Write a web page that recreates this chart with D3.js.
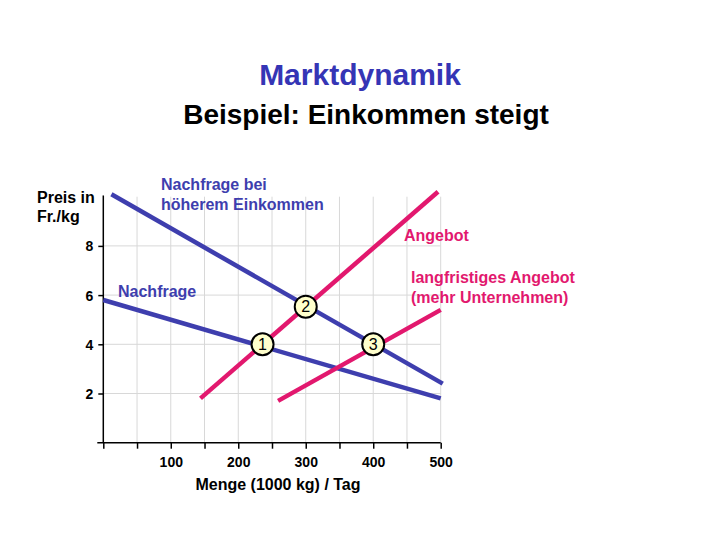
<!DOCTYPE html>
<html lang="de">
<head>
  <meta charset="UTF-8" />
  <title>Marktdynamik</title>
  <script src="https://d3js.org/d3.v7.min.js"></script>
  <style>
    body { margin: 0; padding: 0; background: #fff; font-family: Arial, "Liberation Sans", sans-serif; }
    svg { display: block; }
    svg text { font-weight: bold; }
    .axis path, .axis line { stroke: #000; stroke-width: 1.5; }
    .axis text { font-family: Arial, "Liberation Sans", sans-serif; font-size: 14px; font-weight: bold; fill: #000; }
  </style>
</head>
<body>
  <svg id="chart" width="720" height="540"></svg>
  <script>
    // Menge in 1000 kg / Tag, Preis in Fr./kg
    const xTicks = [0, 50, 100, 150, 200, 250, 300, 350, 400, 450, 500];
    const xLabels = [100, 200, 300, 400, 500];
    const yTicks = [2, 4, 6, 8];

    const nachfrage = [[0, 5.8], [500, 1.8]];
    const nachfrageHoch = [[12, 10.1], [503, 2.4]];
    const angebot = [[144, 1.8], [496, 10.2]];
    const angebotLang = [[259, 1.7], [500, 5.4]];

    const punkte = [
      { name: "1", x: 236, y: 4.0 },
      { name: "2", x: 300, y: 5.53 },
      { name: "3", x: 400, y: 4.0 }
    ];

    const blue = "#3e3eae";
    const pink = "#e2186e";

    const svg = d3.select("#chart");
    const x = d3.scaleLinear().domain([0, 500]).range([103.3, 440.7]);
    const y = d3.scaleLinear().domain([0, 10]).range([442.7, 196.7]);

    // titles
    svg.append("text").attr("x", 360).attr("y", 85)
      .attr("text-anchor", "middle").attr("font-size", 30).attr("fill", "#3535b5")
      .text("Marktdynamik");
    svg.append("text").attr("x", 366).attr("y", 124)
      .attr("text-anchor", "middle").attr("font-size", 28).attr("fill", "#000")
      .text("Beispiel: Einkommen steigt");

    // grid
    const grid = svg.append("g").attr("stroke", "#d8d8d8").attr("stroke-width", 1);
    grid.selectAll("line.v").data(xTicks.filter(d => d > 0)).enter().append("line")
      .attr("x1", d => x(d)).attr("x2", d => x(d))
      .attr("y1", y(0)).attr("y2", y(10));
    grid.selectAll("line.h").data(yTicks).enter().append("line")
      .attr("x1", x(0)).attr("x2", x(500))
      .attr("y1", d => y(d)).attr("y2", d => y(d));

    // axes
    const xAxis = d3.axisBottom(x).tickValues(xTicks).tickSize(6).tickSizeOuter(0)
      .tickFormat(d => xLabels.includes(d) ? d : "");
    const gx = svg.append("g").attr("class", "axis").attr("transform", `translate(0,${y(0)})`).call(xAxis);
    gx.select(".domain").attr("d", `M${x(0) - 6},0H${x(500)}`);
    gx.selectAll("text").attr("dy", 0).attr("y", 24);

    const yAxis = d3.axisLeft(y).tickValues(yTicks).tickSize(5).tickSizeOuter(0);
    const gy = svg.append("g").attr("class", "axis").attr("transform", `translate(${x(0)},0)`).call(yAxis);
    gy.select(".domain").attr("d", `M0,${y(0)}V${y(10.05)}`);
    gy.selectAll("text").attr("x", -10).attr("dy", "0.35em");

    // axis labels
    svg.append("text").attr("x", 278).attr("y", 490)
      .attr("text-anchor", "middle").attr("font-size", 16).text("Menge (1000 kg) / Tag");
    const yl = svg.append("text").attr("x", 37).attr("y", 203).attr("font-size", 16);
    yl.append("tspan").attr("x", 37).text("Preis in");
    yl.append("tspan").attr("x", 37).attr("dy", 19).text("Fr./kg");

    // curves
    const line = d3.line().x(d => x(d[0])).y(d => y(d[1]));
    [[nachfrage, blue], [nachfrageHoch, blue], [angebot, pink], [angebotLang, pink]].forEach(([data, c]) => {
      svg.append("path").datum(data).attr("d", line)
        .attr("fill", "none").attr("stroke", c).attr("stroke-width", 4.5);
    });

    // curve labels
    function label(px, py, lines, color) {
      const t = svg.append("text").attr("x", px).attr("y", py).attr("font-size", 16).attr("fill", color);
      lines.forEach((s, i) => t.append("tspan").attr("x", px).attr("dy", i ? 20 : 0).text(s));
    }
    label(161, 190, ["Nachfrage bei", "höherem Einkommen"], blue);
    label(118, 297, ["Nachfrage"], blue);
    label(404, 241, ["Angebot"], pink);
    label(411, 283, ["langfristiges Angebot", "(mehr Unternehmen)"], pink);

    // equilibrium points
    const pg = svg.selectAll("g.pt").data(punkte).enter().append("g")
      .attr("transform", d => `translate(${x(d.x)},${y(d.y)})`);
    pg.append("circle").attr("r", 11).attr("fill", "#ffffcc").attr("stroke", "#000").attr("stroke-width", 2);
    pg.append("text").attr("text-anchor", "middle").attr("dy", "0.36em")
      .attr("font-size", 16).style("font-weight", "normal").text(d => d.name);
  </script>
</body>
</html>
